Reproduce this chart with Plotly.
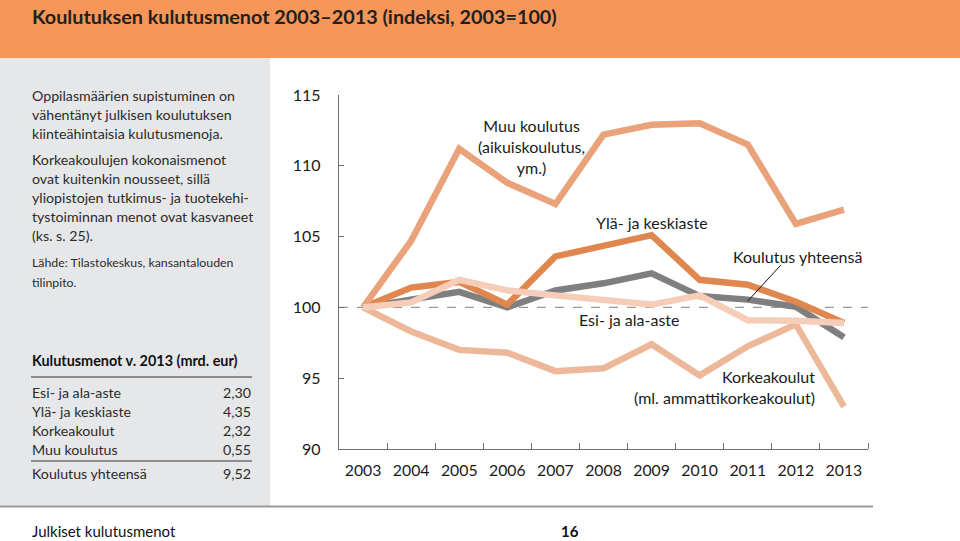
import plotly.graph_objects as go

years = [2003, 2004, 2005, 2006, 2007, 2008, 2009, 2010, 2011, 2012, 2013]
muu = [100, 104.7, 111.2, 108.8, 107.3, 112.2, 112.9, 113.0, 111.5, 105.9, 106.9]
yla = [100, 101.4, 101.8, 100.2, 103.6, 104.3, 105.1, 101.95, 101.6, 100.4, 98.9]
yhteensa = [100, 100.5, 101.1, 100.0, 101.2, 101.7, 102.4, 100.8, 100.55, 100.05, 97.9]
korkea = [100, 98.3, 97.0, 96.8, 95.5, 95.7, 97.4, 95.2, 97.25, 98.8, 93.0]
esi = [100, 100.35, 101.95, 101.2, 100.85, 100.5, 100.2, 100.85, 99.1, 99.05, 98.9]

yticks = [90, 95, 100, 105, 110, 115]

table_rows = ["Esi- ja ala-aste", "Ylä- ja keskiaste", "Korkeakoulut", "Muu koulutus"]
table_vals = ["2,30", "4,35", "2,32", "0,55"]
table_total = ("Koulutus yhteensä", "9,52")

C_MUU = "#E9A27A"
C_YLA = "#E0874F"
C_GRAY = "#7F7F7F"
C_KORK = "#EDB899"
C_ESI = "#F5CDB8"

FONT = "Lato"
TXT = "#2b2b2b"

fig = go.Figure()
for ys, col in [(yhteensa, C_GRAY), (yla, C_YLA), (muu, C_MUU), (korkea, C_KORK), (esi, C_ESI)]:
    fig.add_trace(go.Scatter(x=years, y=ys, mode="lines",
                             line=dict(color=col, width=6.5), hoverinfo="skip",
                             showlegend=False))

W, H = 960, 541
def py(y):
    return 1 - y / H
def px(x):
    return x / W

shapes = []
shapes.append(dict(type="rect", xref="paper", yref="paper", x0=0, x1=1, y0=py(58), y1=1,
                   fillcolor="#F79659", line=dict(width=0), layer="below"))
shapes.append(dict(type="rect", xref="paper", yref="paper", x0=0, x1=px(270), y0=py(506), y1=py(58),
                   fillcolor="#E6E7E9", line=dict(width=0), layer="below"))
shapes.append(dict(type="line", xref="paper", yref="paper", x0=0, x1=px(873), y0=py(506.5), y1=py(506.5),
                   line=dict(color="#9a9a9a", width=2)))
shapes.append(dict(type="line", xref="paper", yref="paper", x0=px(31), x1=px(252), y0=py(377), y1=py(377),
                   line=dict(color="#333", width=1)))
shapes.append(dict(type="line", xref="paper", yref="paper", x0=px(31), x1=px(252), y0=py(461), y1=py(461),
                   line=dict(color="#333", width=1)))
shapes.append(dict(type="line", xref="x domain", yref="y", x0=0, x1=1, y0=100, y1=100,
                   line=dict(color="#999999", width=1.2, dash="dash"), layer="below"))
shapes.append(dict(type="line", xref="x", yref="y", x0=2011.69, x1=2011.0, y0=103.0, y1=100.45,
                   line=dict(color="#111", width=1)))
fig.update_layout(shapes=shapes)

ann = []
def A(text, x, y, size=14.5, bold=False, xanchor="left", color=TXT, xref="paper", yref="paper", align="left"):
    t = f"<b>{text}</b>" if bold else text
    ann.append(dict(text=t, x=x, y=y, xref=xref, yref=yref, xanchor=xanchor, yanchor="middle",
                    showarrow=False, align=align, font=dict(family=FONT, size=size, color=color)))

A("Koulutuksen kulutusmenot 2003–2013 (indeksi, 2003=100)", px(30), py(16), size=19.8, bold=True, color="#231F20")

left_lines = [
    ("Oppilasmäärien supistuminen on", 95),
    ("vähentänyt julkisen koulutuksen", 114),
    ("kiinteähintaisia kulutusmenoja.", 133),
    ("Korkeakoulujen kokonaismenot", 160),
    ("ovat kuitenkin nousseet, sillä", 179),
    ("yliopistojen tutkimus- ja tuotekehi-", 198),
    ("tystoiminnan menot ovat kasvaneet", 217),
    ("(ks. s. 25).", 236),
]
for t, y in left_lines:
    A(t, px(30), py(y), size=14.2)
A("Lähde: Tilastokeskus, kansantalouden", px(30), py(262), size=12.3)
A("tilinpito.", px(30), py(282), size=12.3)

A("Kulutusmenot v. 2013 (mrd. eur)", px(30), py(360), size=14.4, bold=True, color="#111")
for i, (r, v) in enumerate(zip(table_rows, table_vals)):
    y = 392 + 19 * i
    A(r, px(30), py(y), size=14.2)
    A(v, px(253), py(y), size=14.2, xanchor="right")
A(table_total[0], px(30), py(473), size=14.2)
A(table_total[1], px(253), py(473), size=14.2, xanchor="right")

A("Julkiset kulutusmenot", px(30), py(531), size=15, color="#111")
A("16", px(570), py(531), size=15, bold=True, color="#111", xanchor="center")

LS = 16
A("Muu koulutus<br>(aikuiskoulutus,<br>ym.)", 2006.5, 111.35, size=LS, xanchor="center",
  xref="x", yref="y", align="center", color="#1a1a1a")
A("Ylä- ja keskiaste", 2009.0, 106.03, size=LS, xanchor="center", xref="x", yref="y", color="#1a1a1a")
A("Koulutus yhteensä", 2012.03, 103.56, size=LS, xanchor="center", xref="x", yref="y", color="#1a1a1a")
A("Esi- ja ala-aste", 2008.53, 99.18, size=LS, xanchor="center", xref="x", yref="y", color="#1a1a1a")
A("Korkeakoulut<br>(ml. ammattikorkeakoulut)", 2012.44, 94.4, size=LS, xanchor="right",
  xref="x", yref="y", align="right", color="#1a1a1a")
fig.update_layout(annotations=ann)

fig.update_layout(
    width=W, height=H, margin=dict(l=0, r=0, t=0, b=0, pad=0, autoexpand=False),
    paper_bgcolor="white", plot_bgcolor="white",
    xaxis=dict(domain=[px(339), px(868)], range=[2002.5, 2013.5], automargin=False,
               tickmode="array", tickvals=years, ticktext=[str(y) for y in years],
               ticks="", showgrid=False, zeroline=False,
               showline=True, linecolor="#6f6f6f", linewidth=1.3,
               tickfont=dict(family=FONT, size=15.8, color="#1a1a1a"),
               ticklabelstandoff=7,
               minor=dict(tickmode="array", tickvals=[y + 0.5 for y in years], ticks="inside",
                          ticklen=6, tickcolor="#6f6f6f", tickwidth=1.2, showgrid=False)),
    yaxis=dict(domain=[py(449), py(95)], range=[90, 115], automargin=False,
               tickmode="array", tickvals=yticks, ticks="inside", ticklen=5,
               tickcolor="#6f6f6f", tickwidth=1.2,
               showgrid=False, zeroline=False,
               showline=True, linecolor="#6f6f6f", linewidth=1.3,
               tickfont=dict(family=FONT, size=16, color="#1a1a1a"),
               ticklabelstandoff=14),
)

fig.write_html("out.html", config={"displayModeBar": False},
               post_script="document.body.style.margin='0';document.body.style.padding='0';")
